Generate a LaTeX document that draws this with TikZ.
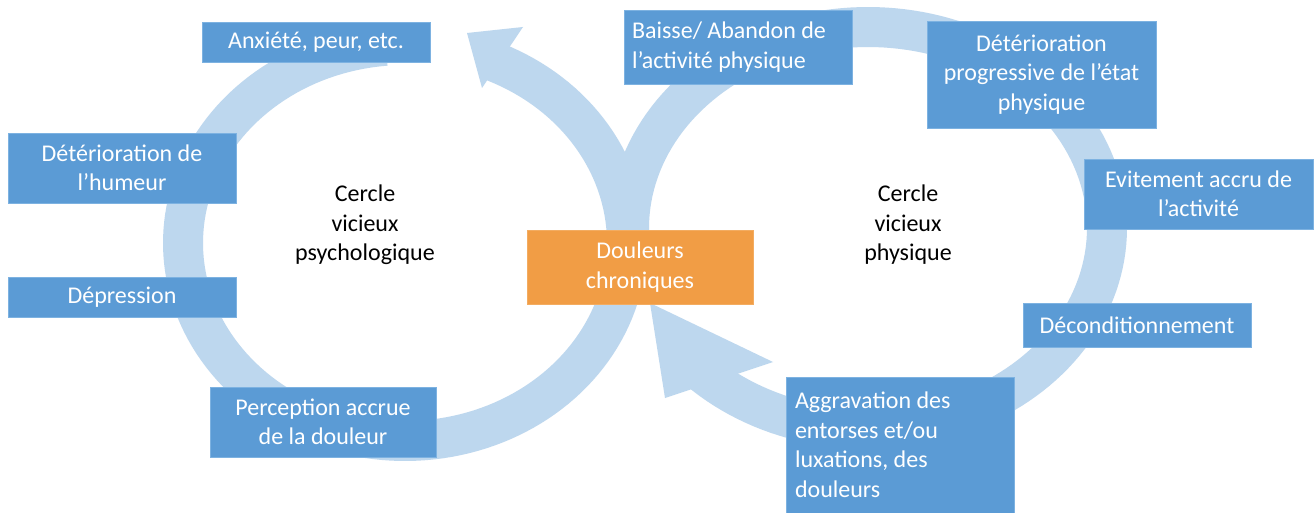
\documentclass[tikz,border=0pt]{standalone}
\usepackage{fontspec}
\setmainfont{Carlito}
\definecolor{band}{RGB}{189,215,238}
\definecolor{boxblue}{RGB}{91,155,213}
\definecolor{boxedge}{RGB}{125,178,225}
\definecolor{boxorange}{RGB}{241,157,69}
\begin{document}
\begin{tikzpicture}[x=1pt,y=-1pt,
  box/.style={fill=boxblue, draw=boxedge, line width=0.8pt, text=white,
    font=\fontsize{24}{29.5}\selectfont, inner sep=0pt, align=flush center},
  lbl/.style={text=black, font=\fontsize{24}{29.5}\selectfont, align=flush center, inner sep=0pt},
  bandline/.style={draw=band, line width=40pt}]
\useasboundingbox (0,0) rectangle (1316,513);
\fill[white] (0,0) rectangle (1316,513);

% left loop (psychological)
\draw[bandline] plot[domain=95:428, samples=160] ({405+222*cos(\x)},{243-198*sin(\x)});
% right loop (physical)
\draw[bandline] plot[domain=-135:190, samples=160] ({868+239*cos(\x)},{228-201*sin(\x)});

% arrow heads
\coordinate (tipL) at (467,33);
\coordinate (tipR) at (650,303);
\fill[band] (tipL) -- (523,27) -- (482,88) -- cycle;
\fill[band] (tipR) -- (773,362) -- (665,398) -- cycle;

% boxes
\node[box, minimum width=228pt, minimum height=40pt] (anx) at (316,42) {Anxiété, peur, etc.};
\node[box, minimum width=228pt, minimum height=74pt, text width=212pt, align=flush left] (baisse) at (738,47) {Baisse/ Abandon de\\ l’activité physique};
\node[box, minimum width=229pt, minimum height=107pt] (deter) at (1041.5,74.5) {Détérioration\\ progressive de l’état\\ physique};
\node[box, minimum width=229pt, minimum height=70pt] (evit) at (1198.5,194) {Evitement accru de\\ l’activité};
\node[box, minimum width=228pt, minimum height=44pt] (decond) at (1137,325) {Déconditionnement};
\node[box, minimum width=228pt, minimum height=136pt, text width=210pt, align=flush left] (aggr) at (900,445) {Aggravation des\\ entorses et/ou\\ luxations, des\\ douleurs};
\node[box, fill=boxorange, draw=boxorange!85!white, minimum width=226pt, minimum height=74pt] (doul) at (640,267) {Douleurs\\ chroniques};
\node[box, minimum width=228pt, minimum height=70pt] (hum) at (122,168) {Détérioration de\\ l’humeur};
\node[box, minimum width=228pt, minimum height=40pt] (dep) at (122,297) {Dépression};
\node[box, minimum width=226pt, minimum height=70pt] (perc) at (323,422) {Perception accrue\\ de la douleur};

% centre labels
\node[lbl] (c1) at (365,225) {Cercle\\ vicieux\\ psychologique};
\node[lbl] (c2) at (908,225) {Cercle\\ vicieux\\ physique};
\end{tikzpicture}
\end{document}
